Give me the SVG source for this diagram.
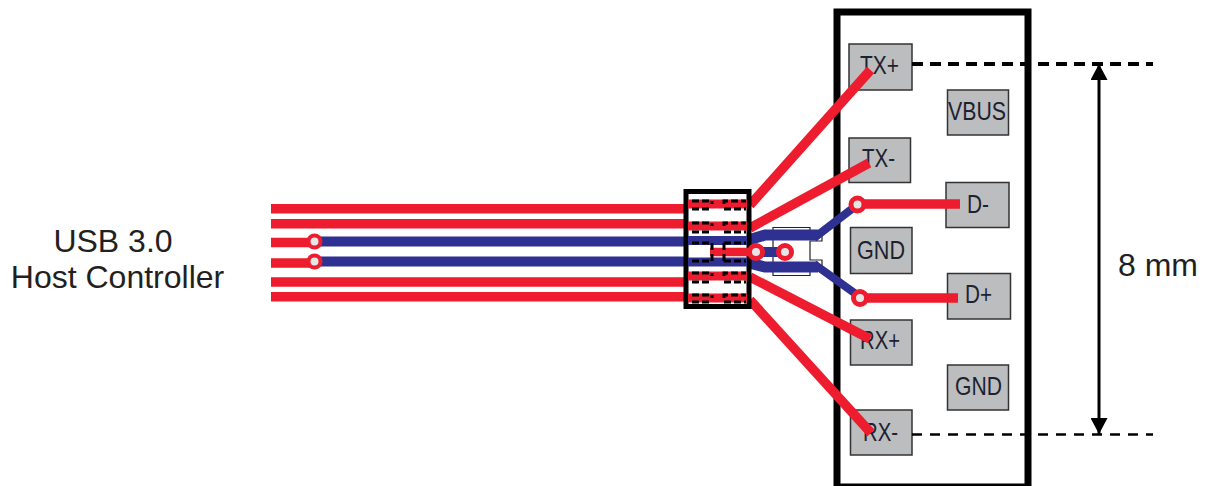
<svg xmlns="http://www.w3.org/2000/svg" width="1207" height="486" viewBox="0 0 1207 486">
<style>
text{font-family:"Liberation Sans",Arial,sans-serif;fill:#231f20}
.lbl{font-size:32px}
.pin{font-size:25px;fill:#1d2230}
.pad{fill:#bcbdbf;stroke:#333;stroke-width:1.5}
.red{stroke:#ed1c2e;stroke-width:9.500;fill:none}
.blue{stroke:#2e3192;stroke-width:10;fill:none;stroke-linejoin:miter}
.via{fill:#e6e6e6;stroke:#ed1c2e;stroke-width:5}
.dash{stroke:#000;stroke-width:3;fill:none;stroke-dasharray:7 3}
</style>
<defs>
<marker id="arrow" markerUnits="userSpaceOnUse" markerWidth="18" markerHeight="17" refX="16" refY="8.5" orient="auto-start-reverse"><path d="M0 0L16 8.5L0 17Z" fill="#000"/></marker>
</defs>
<g id="host"><text class="lbl" x="113" y="252" text-anchor="middle">USB 3.0</text><text class="lbl" x="117.500" y="288" text-anchor="middle">Host Controller</text></g>
<g id="connector-shell"><rect x="837" y="12" width="191" height="475" fill="#fff" stroke="#000" stroke-width="7"/></g>
<g id="pad-tx-plus"><rect class="pad" x="849" y="44" width="63" height="46"/><text class="pin" x="860" y="74" textLength="39" lengthAdjust="spacingAndGlyphs">TX+</text></g>
<g id="pad-vbus"><rect class="pad" x="947.500" y="90" width="61" height="45"/><text class="pin" x="948" y="120" textLength="58" lengthAdjust="spacingAndGlyphs">VBUS</text></g>
<g id="pad-tx-minus"><rect class="pad" x="849" y="138" width="61.500" height="44.500"/><text class="pin" x="862" y="167" textLength="33" lengthAdjust="spacingAndGlyphs">TX-</text></g>
<g id="pad-d-minus"><rect class="pad" x="946" y="182.500" width="63" height="45"/><text class="pin" x="967" y="213" textLength="22" lengthAdjust="spacingAndGlyphs">D-</text></g>
<g id="pad-gnd-1"><rect class="pad" x="850.500" y="227.500" width="61.500" height="46"/><text class="pin" x="857" y="259" textLength="48" lengthAdjust="spacingAndGlyphs">GND</text></g>
<g id="pad-d-plus"><rect class="pad" x="947.500" y="273.500" width="63" height="45.500"/><text class="pin" x="965" y="303" textLength="27" lengthAdjust="spacingAndGlyphs">D+</text></g>
<g id="pad-rx-plus"><rect class="pad" x="850.500" y="320" width="61.500" height="45"/><text class="pin" x="860" y="349" textLength="40" lengthAdjust="spacingAndGlyphs">RX+</text></g>
<g id="pad-gnd-2"><rect class="pad" x="947.500" y="365" width="61" height="45"/><text class="pin" x="955" y="395" textLength="47" lengthAdjust="spacingAndGlyphs">GND</text></g>
<g id="pad-rx-minus"><rect class="pad" x="850.500" y="410" width="61.500" height="45"/><text class="pin" x="863" y="441" textLength="35" lengthAdjust="spacingAndGlyphs">RX-</text></g>
<g id="connectors">
<path d="M912 64H1153" stroke="#000" stroke-width="4" fill="none" stroke-dasharray="11 7"/>
<path d="M912 434.500H1153" stroke="#000" stroke-width="2.500" fill="none" stroke-dasharray="10 8"/>
<path d="M1099 64V434" stroke="#000" stroke-width="3" fill="none" marker-start="url(#arrow)" marker-end="url(#arrow)"/>
<path d="M773 227.500H810V235H822V241H810V260H822V266H810V275.500H773Z" fill="#fff" stroke="#222" stroke-width="1.200"/>
<path class="blue" d="M745 241L765 235H818" style="stroke-width:11"/>
<path class="blue" d="M745 262L765 267H818" style="stroke-width:11"/>
<path class="blue" d="M814 238L857 205M814 264L860 297" style="stroke-width:8"/>
<path class="blue" d="M756 252H785"/>
<path class="red" d="M750 205L870.500 70"/>
<path class="red" d="M750 228L869 163"/>
<path class="red" d="M750 277L870 339"/>
<path class="red" d="M750 300L871 433"/>
<path class="red" d="M271 208.700H690M271 223.700H690M271 242.500H314M271 263H314M271 282H690M271 296.700H690"/>
<path class="blue" d="M320 241.500H690M320 261.500H690"/>
<path class="red" d="M860 204H960M862 298H958"/>
</g>
<g id="via-group">
<circle class="via" cx="314.500" cy="241.500" r="6" style="stroke-width:4"/><circle class="via" cx="314.500" cy="261.500" r="6" style="stroke-width:4"/>
<circle class="via" cx="857.500" cy="204.500" r="6.500"/><circle class="via" cx="860" cy="298" r="6.500"/>
</g>
<g id="breakout">
<rect x="686" y="191.500" width="63" height="115" fill="#fff" stroke="#000" stroke-width="5"/>
<path class="red" d="M688 204H747M688 226H747M688 276H747M688 298H747" style="stroke-width:9"/>
<path class="blue" d="M688 240.500H747M688 262H747" style="stroke-width:9"/>
<path class="red" d="M710 252H752" style="stroke-width:8.500"/>
<path class="dash" d="M692 201H712V204M724 204V201H746M692 209H712M724 209H746M692 223H712V226M724 226V223H746M692 232H712M724 232H746M692 243H712M724 243H746M712 243V250M724 243V250M712 254V261M724 254V261M692 261H712M724 261H746M692 273H712V276M724 276V273H746M692 282H712M724 282H746M692 295H712V298M724 298V295H746M692 302H712M724 302H746"/>
<circle class="via" cx="756" cy="252" r="6.500"/><circle class="via" cx="785" cy="252" r="6.500"/>
</g>
<text class="lbl" x="1118" y="276">8 mm</text>
</svg>
